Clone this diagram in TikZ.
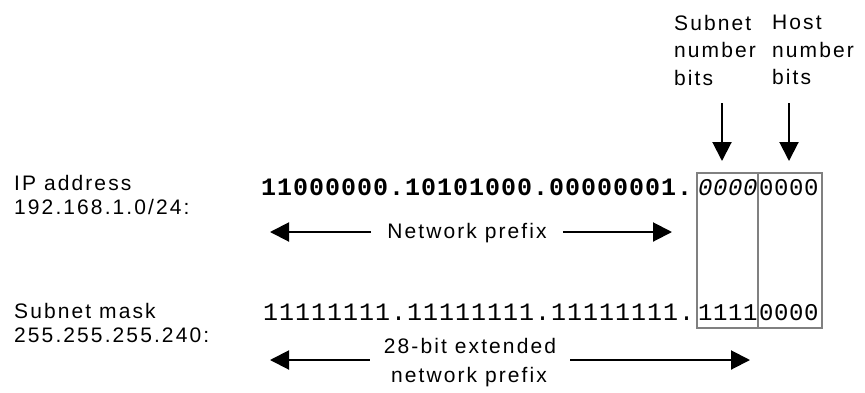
\documentclass[tikz,border=0pt]{standalone}
\usepackage{fontspec}
\usetikzlibrary{arrows.meta}
\newfontfamily\labelfont[LetterSpace=10]{Liberation Sans}
\newfontfamily\bitfont[LetterSpace=4]{Liberation Mono}
\newfontfamily\cellfont[LetterSpace=2.5]{Liberation Mono}
\definecolor{boxgray}{RGB}{128,128,128}

\begin{document}
\begin{tikzpicture}[x=1pt,y=-1pt,
                    lbl/.style={inner sep=0pt,font=\fontsize{21}{24.5}\labelfont},
                    hdr/.style={lbl,anchor=north west,align=left,font=\fontsize{21}{27.5}\labelfont},
                    bits/.style={inner sep=0pt,anchor=base west},
                    cell/.style={draw=boxgray,line width=2pt,minimum height=155pt,inner sep=0pt},
                    arr/.style={line width=2pt,-{Triangle[length=19pt,width=19pt]}}]
    \useasboundingbox (0,0) rectangle (865,392);
    % left labels
    \node[lbl,anchor=north west,align=left] (iplbl) at (14,175) {IP address\\192.168.1.0/24:};
    \node[lbl,anchor=north west,align=left] (masklbl) at (14,303) {Subnet mask\\255.255.255.240:};
    % subnet and host boxes
    \node[cell,minimum width=61pt] (subcell) at (727.5,250.5) {};
    \node[cell,minimum width=64pt] (hostcell) at (790,250.5) {};
    % bit strings
    \node[bits,font=\fontsize{25}{25}\bitfont\bfseries] (ipbits) at (261,195) {11000000.10101000.00000001.};
    \node[bits,font=\fontsize{24}{24}\cellfont\itshape] (ipsub) at (698,195) {0000};
    \node[bits,font=\fontsize{24}{24}\cellfont] (iphost) at (759,195) {0000};
    \node[bits,font=\fontsize{25}{25}\bitfont] (maskbits) at (263,320) {11111111.11111111.11111111.};
    \node[bits,font=\fontsize{24}{24}\cellfont] (masksub) at (698,320) {1111};
    \node[bits,font=\fontsize{24}{24}\cellfont] (maskhost) at (759,320) {0000};
    % headers with arrows down
    \node[hdr] (subhdr) at (674,15) {Subnet\\number\\bits};
    \node[hdr] (hosthdr) at (772,15) {Host\\number\\bits};
    \coordinate (subtail) at (722,103);
    \coordinate (hosttail) at (789,103);
    \draw[arr,shorten >=11pt] (subtail) -- (subtail |- subcell.north);
    \draw[arr,shorten >=11pt] (hosttail) -- (hosttail |- hostcell.north);
    % network prefix
    \node[lbl,inner xsep=16pt] (netpfx) at (467,233) {Network prefix};
    \coordinate (netl) at (270,232);
    \coordinate (netr) at (672,232);
    \draw[arr] (netpfx.west |- netl) -- (netl);
    \draw[arr] (netpfx.east |- netr) -- (netr);
    % extended network prefix
    \node[lbl,anchor=base,inner xsep=14pt] (extpfx) at (470,353) {28-bit extended};
    \node[lbl,anchor=base] (extpfx2) at (469,382) {network prefix};
    \coordinate (extl) at (270,360);
    \coordinate (extr) at (750,360);
    \draw[arr] (extpfx.west |- extl) -- (extl);
    \draw[arr] (extpfx.east |- extr) -- (extr);
\end{tikzpicture}
\end{document}
